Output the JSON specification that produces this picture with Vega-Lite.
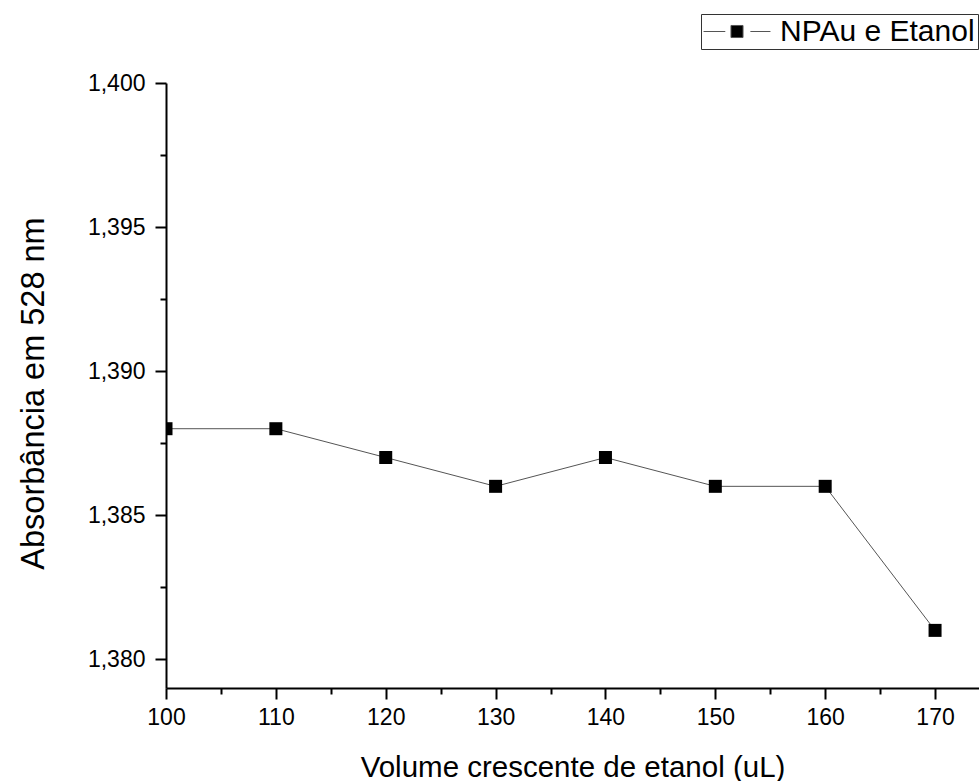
{
  "$schema": "https://vega.github.io/schema/vega-lite/v6.json",
  "autosize": {"type": "none"},
  "width": 813,
  "height": 605,
  "padding": {"left": 166, "top": 83, "right": 0, "bottom": 93},
  "background": "white",
  "config": {
    "view": {"stroke": null},
    "font": "Liberation Sans",
    "axis": {
      "grid": false,
      "domainColor": "black",
      "domainWidth": 2,
      "tickColor": "black",
      "tickWidth": 2,
      "labelFont": "Liberation Sans",
      "labelColor": "black",
      "labelFontSize": 23,
      "titleFont": "Liberation Sans",
      "titleColor": "black",
      "titleFontSize": 29.5,
      "titleFontWeight": "normal"
    }
  },
  "data": {
    "values": [
      {"volume": 100, "absorbancia": 1.388, "serie": "NPAu e Etanol"},
      {"volume": 110, "absorbancia": 1.388, "serie": "NPAu e Etanol"},
      {"volume": 120, "absorbancia": 1.387, "serie": "NPAu e Etanol"},
      {"volume": 130, "absorbancia": 1.386, "serie": "NPAu e Etanol"},
      {"volume": 140, "absorbancia": 1.387, "serie": "NPAu e Etanol"},
      {"volume": 150, "absorbancia": 1.386, "serie": "NPAu e Etanol"},
      {"volume": 160, "absorbancia": 1.386, "serie": "NPAu e Etanol"},
      {"volume": 170, "absorbancia": 1.381, "serie": "NPAu e Etanol"}
    ]
  },
  "encoding": {
    "x": {
      "field": "volume",
      "type": "quantitative",
      "scale": {"domain": [100, 174], "nice": false, "zero": false},
      "axis": {
        "title": "Volume crescente de etanol (uL)",
        "values": [100, 105, 110, 115, 120, 125, 130, 135, 140, 145, 150, 155, 160, 165, 170],
        "format": "d",
        "labelExpr": "datum.value % 10 == 0 ? datum.label : ''",
        "tickSize": {"condition": {"test": "datum.value % 10 != 0", "value": 6}, "value": 11},
        "labelPadding": 7,
        "titlePadding": 24,
        "labelFlush": false,
        "labelOverlap": false
      }
    },
    "y": {
      "field": "absorbancia",
      "type": "quantitative",
      "scale": {"domain": [1.379, 1.4], "nice": false, "zero": false},
      "axis": {
        "title": "Absorbância em 528 nm",
        "values": [1.38, 1.3825, 1.385, 1.3875, 1.39, 1.3925, 1.395, 1.3975, 1.4],
        "labelExpr": "round(datum.value * 10000) % 50 == 0 ? replace(format(datum.value, '.3f'), '.', ',') : ''",
        "tickSize": {"condition": {"test": "round(datum.value * 10000) % 50 != 0", "value": 6}, "value": 11},
        "labelPadding": 10,
        "titleFontSize": 32.5,
        "titleAngle": -90,
        "titleBaseline": "alphabetic",
        "titleAlign": "center",
        "titleX": -123,
        "titleY": 310,
        "labelFlush": false,
        "labelOverlap": false
      }
    }
  },
  "layer": [
    {
      "mark": {"type": "line", "stroke": "#555555", "strokeWidth": 1, "clip": true},
      "encoding": {}
    },
    {
      "mark": {"type": "point", "shape": "square", "filled": true, "size": 169, "opacity": 1, "clip": true},
      "encoding": {
        "color": {
          "field": "serie",
          "type": "nominal",
          "scale": {"range": ["black"]},
          "legend": {
            "title": null,
            "orient": "none",
            "legendX": 535,
            "legendY": -69,
            "padding": 2.5,
            "strokeColor": "#333333",
            "fillColor": "white",
            "symbolType": "M-4,0H-1.4M1.6,0H4M-0.72,-0.72H0.72V0.72H-0.72Z",
            "symbolSize": 280,
            "symbolOffset": 18.5,
            "symbolFillColor": "black",
            "symbolStrokeColor": "#555555",
            "symbolStrokeWidth": 1,
            "symbolOpacity": 1,
            "labelFont": "Liberation Sans",
            "labelFontSize": 30,
            "labelColor": "black",
            "labelOffset": 28,
            "labelLimit": 1000
          }
        }
      }
    }
  ]
}
